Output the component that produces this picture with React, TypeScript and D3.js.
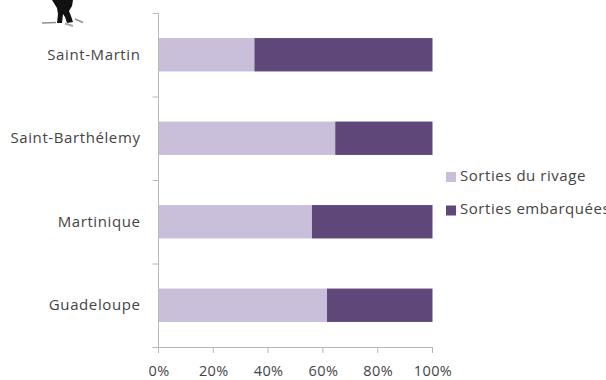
import React from "react";
import * as d3 from "d3";

const WIDTH = 606;
const HEIGHT = 380;

const regions = ["Saint-Martin", "Saint-Barthélemy", "Martinique", "Guadeloupe"];
const shoreShare = [35, 64.5, 56, 61.5];
const boatShare = [65, 35.5, 44, 38.5];
const seriesNames = ["Sorties du rivage", "Sorties embarquées"];
const seriesColors = ["#c9bfdb", "#5f4879"];
const xTicks = [0, 20, 40, 60, 80, 100];

const AXIS_COLOR = "#b8b8b8";
const TEXT_COLOR = "#444";
const FONT = "'Open Sans', Lato, sans-serif";

const x = d3.scaleLinear().domain([0, 100]).range([158.5, 432.5]);
const y = d3.scaleBand<string>().domain(regions).range([13, 347]).paddingInner(0.6).paddingOuter(0.3);
const yBands = d3.scaleBand<string>().domain(regions).range([13, 347]);

export default function App() {
  const boundaries = [...regions.map((r) => yBands(r) as number), 347];
  return (
    <svg
      width={WIDTH}
      height={HEIGHT}
      viewBox={`0 0 ${WIDTH} ${HEIGHT}`}
      style={{ position: "absolute", left: 0, top: 0, background: "#fff" }}
      fontFamily={FONT}
    >
      {/* diver silhouette standing on a patch of rock */}
      <g>
        <path
          d="M52 0 L73 0 L72 6 L69 11 L71 16 L73 22 L67 23 L65 17 L63 14 L62 23 L57 23 L58 14 L57 8 Z"
          fill="#111"
        />
        <path d="M42 23 L56 22.5" stroke="#8f8f8f" strokeWidth={1.4} fill="none" />
        <path d="M75 19 L83 22.5" stroke="#8f8f8f" strokeWidth={1.4} fill="none" />
        <path d="M65 23.5 L73 26" stroke="#a8a8a8" strokeWidth={2} fill="none" />
      </g>

      {/* stacked bars */}
      {regions.map((r, i) => (
        <g key={r}>
          <rect x={x(0)} y={y(r)} width={x(shoreShare[i]) - x(0)} height={y.bandwidth()} fill={seriesColors[0]} />
          <rect
            x={x(shoreShare[i])}
            y={y(r)}
            width={x(shoreShare[i] + boatShare[i]) - x(shoreShare[i])}
            height={y.bandwidth()}
            fill={seriesColors[1]}
          />
        </g>
      ))}

      {/* category axis */}
      <line x1={x(0)} x2={x(0)} y1={13} y2={347} stroke={AXIS_COLOR} />
      {boundaries.map((b) => (
        <line key={b} x1={x(0) - 6} x2={x(0)} y1={b + 0.5} y2={b + 0.5} stroke={AXIS_COLOR} />
      ))}
      {regions.map((r) => (
        <text
          key={r}
          x={140.5}
          y={(yBands(r) as number) + yBands.bandwidth() / 2 + 1.2}
          textAnchor="end"
          dominantBaseline="middle"
          fontSize={15}
          letterSpacing={0.6}
          fill={TEXT_COLOR}
        >
          {r}
        </text>
      ))}

      {/* value axis */}
      <line x1={x(0) - 6} x2={x(100)} y1={347.5} y2={347.5} stroke={AXIS_COLOR} />
      {xTicks.map((t) => (
        <g key={t}>
          <line x1={x(t)} x2={x(t)} y1={347} y2={353} stroke={AXIS_COLOR} />
          <text x={x(t) + 0.5} y={376} textAnchor="middle" fontSize={14.5} letterSpacing={0.4} fill={TEXT_COLOR}>
            {t}%
          </text>
        </g>
      ))}

      {/* legend */}
      {seriesNames.map((name, i) => (
        <g key={name}>
          <rect x={446} y={172 + i * 33.5} width={10} height={10} fill={seriesColors[i]} />
          <text
            x={460}
            y={176.5 + i * 33.5}
            dominantBaseline="middle"
            fontSize={15}
            letterSpacing={0.55}
            fill={TEXT_COLOR}
          >
            {name}
          </text>
        </g>
      ))}
    </svg>
  );
}
